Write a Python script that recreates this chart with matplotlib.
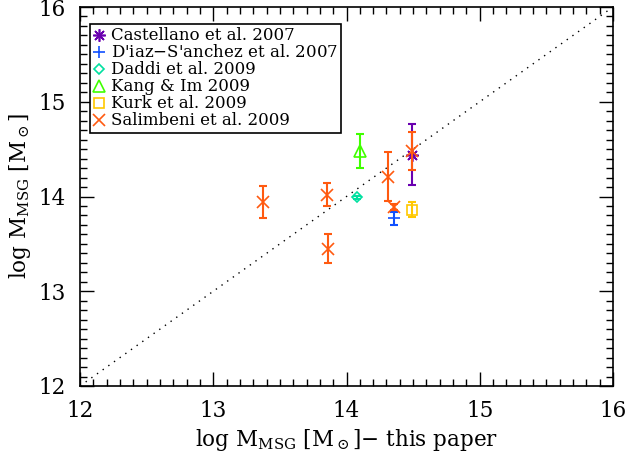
import matplotlib
matplotlib.use("Agg")
import matplotlib.pyplot as plt
from matplotlib.lines import Line2D
from matplotlib.ticker import MultipleLocator

plt.rcParams['font.family'] = ['DejaVu Serif']
plt.rcParams['mathtext.fontset'] = 'dejavuserif'

# Data: (x this paper, y literature, y error)
labels = ["Castellano et al. 2007", "D'iaz$-$S'anchez et al. 2007", "Daddi et al. 2009",
          "Kang & Im 2009", "Kurk et al. 2009", "Salimbeni et al. 2009"]
colors = ["#6a00b0", "#1050ff", "#00e0a0", "#40ff00", "#ffc800", "#ff5a10"]
markers = [(8, 2, 0), "+", "D", "^", "s", "x"]
msizes = [9, 8, 5.5, 8, 7, 8]

cast_x = [14.49]; cast_y = [14.44]; cast_e = [0.32]
diaz_x = [14.36]; diaz_y = [13.77]; diaz_e = [0.07]
dadd_x = [14.08]; dadd_y = [13.99]; dadd_e = [0.02]
kang_x = [14.10]; kang_y = [14.48]; kang_e = [0.18]
kurk_x = [14.49]; kurk_y = [13.86]; kurk_e = [0.08]
sali_x = [13.37, 13.85, 13.86, 14.31, 14.36, 14.49]
sali_y = [13.94, 14.02, 13.45, 14.21, 13.89, 14.48]
sali_e = [0.17, 0.12, 0.15, 0.26, 0.03, 0.20]

series = [(cast_x, cast_y, cast_e), (diaz_x, diaz_y, diaz_e), (dadd_x, dadd_y, dadd_e),
          (kang_x, kang_y, kang_e), (kurk_x, kurk_y, kurk_e), (sali_x, sali_y, sali_e)]

fig = plt.figure(figsize=(6.3, 4.53), dpi=100)
ax = fig.add_axes([80/630, 1-386/453, (613-80)/630, (386-7)/453])

ax.plot([12, 16], [12, 16], linestyle=(0, (1, 4)), color='black', lw=1.0)

handles = []
for (xs, ys, es), c, m, ms, lab in zip(series, colors, markers, msizes, labels):
    ax.errorbar(xs, ys, yerr=es, fmt='none', ecolor=c, elinewidth=1.5, capsize=3, capthick=1.5)
    ax.plot(xs, ys, linestyle='none', marker=m, markersize=ms, markerfacecolor='none',
            markeredgecolor=c, markeredgewidth=1.2, color=c)
    handles.append(Line2D([], [], linestyle='none', marker=m, markersize=ms,
                          markerfacecolor='none', markeredgecolor=c, markeredgewidth=1.2))

ax.set_xlim(12, 16)
ax.set_ylim(12, 16)
ax.xaxis.set_major_locator(MultipleLocator(1))
ax.yaxis.set_major_locator(MultipleLocator(1))
ax.xaxis.set_minor_locator(MultipleLocator(0.1))
ax.yaxis.set_minor_locator(MultipleLocator(0.1))
ax.tick_params(which='both', direction='in', top=True, right=True, labelsize=15.5, width=1)
ax.tick_params(which='major', length=10, pad=10)
ax.tick_params(which='minor', length=5)
for s in ax.spines.values():
    s.set_linewidth(1.2)

ax.set_xlabel(r"log M$_{\rm MSG}$ [M$_\odot$]$-$ this paper", fontsize=15.5, labelpad=4)
ax.set_ylabel(r"log M$_{\rm MSG}$ [M$_\odot$]", fontsize=15.5, labelpad=4)

leg = ax.legend(handles, labels, loc='upper left', bbox_to_anchor=(0.019, 0.955),
                frameon=True, fancybox=False, edgecolor='black', framealpha=1,
                fontsize=12, handlelength=0.7, handletextpad=0.35, borderpad=0.2,
                labelspacing=0.0, borderaxespad=0)
leg.get_frame().set_linewidth(1.2)

fig.savefig("out.png", dpi=100)
